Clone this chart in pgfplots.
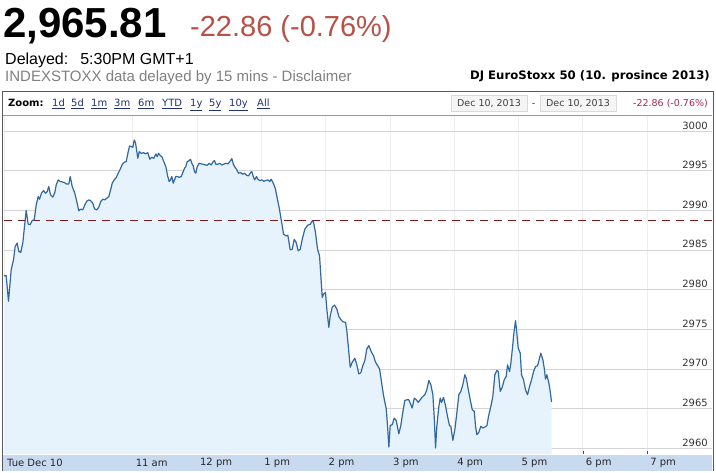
\documentclass[border=0pt]{standalone}
\usepackage{fontspec}
\usepackage{pgfplots}
\usepackage{pgfplotstable}
\pgfplotsset{compat=1.18}
\setmainfont{DejaVu Sans}
\newfontfamily\arial{Liberation Sans}
\newfontfamily\verd{DejaVu Sans}
\definecolor{linecol}{RGB}{50,104,158}
\definecolor{fillcol}{RGB}{230,243,252}
\definecolor{gridcol}{RGB}{212,212,212}
\definecolor{vgridcol}{RGB}{238,238,238}
\definecolor{prevcol}{RGB}{120,28,28}
\definecolor{bandcol}{RGB}{200,218,240}
\definecolor{redhead}{RGB}{182,82,72}
\definecolor{linkcol}{RGB}{30,50,120}
\definecolor{datered}{RGB}{160,40,80}
\newcommand{\tickfont}{\verd\fontsize{10}{12}\selectfont}

\pgfplotstableread{
h v
9.000 2981.76
9.034 2981.76
9.070 2978.53
9.112 2982.52
9.148 2983.77
9.174 2985.45
9.205 2985.87
9.230 2984.82
9.261 2984.70
9.292 2985.87
9.319 2987.97
9.345 2989.98
9.376 2988.26
9.407 2988.18
9.439 2988.72
9.470 2988.80
9.501 2990.69
9.532 2991.74
9.552 2991.40
9.583 2992.16
9.614 2992.49
9.645 2992.16
9.672 2992.37
9.697 2993.00
9.723 2991.95
9.759 2991.66
9.790 2992.24
9.812 2993.21
9.843 2993.84
9.874 2993.63
9.905 2993.58
9.941 2993.50
9.967 2993.33
10.008 2993.33
10.030 2994.26
10.061 2993.00
10.101 2992.16
10.132 2991.11
10.163 2989.94
10.194 2990.15
10.225 2990.06
10.257 2990.69
10.288 2991.15
10.319 2991.32
10.350 2991.19
10.381 2990.90
10.407 2990.19
10.443 2990.06
10.474 2990.40
10.505 2991.11
10.537 2991.40
10.568 2991.32
10.599 2991.53
10.630 2991.74
10.661 2992.66
10.683 2993.42
10.714 2993.84
10.745 2994.13
10.776 2994.68
10.807 2995.18
10.838 2995.77
10.869 2996.06
10.900 2996.14
10.932 2997.40
10.952 2998.11
10.983 2998.03
11.003 2997.95
11.025 2998.87
11.045 2998.53
11.081 2996.56
11.103 2997.40
11.134 2997.19
11.170 2997.27
11.201 2997.11
11.236 2997.27
11.267 2996.44
11.299 2996.69
11.330 2996.56
11.361 2997.11
11.383 2996.77
11.403 2997.19
11.434 2996.86
11.454 2996.77
11.485 2996.14
11.516 2995.51
11.547 2994.26
11.569 2993.63
11.589 2993.84
11.610 2994.26
11.631 2993.42
11.652 2993.84
11.672 2994.26
11.694 2994.26
11.725 2994.17
11.756 2994.26
11.787 2994.88
11.807 2995.30
11.827 2995.51
11.849 2996.14
11.880 2996.27
11.900 2996.44
11.921 2995.93
11.942 2995.60
11.963 2994.88
11.983 2994.68
12.005 2995.51
12.036 2995.93
12.067 2995.85
12.098 2995.81
12.129 2995.72
12.160 2995.68
12.191 2995.93
12.222 2995.72
12.253 2996.14
12.274 2996.27
12.294 2995.81
12.325 2995.81
12.356 2995.93
12.387 2995.72
12.418 2995.81
12.449 2995.93
12.481 2995.85
12.512 2996.14
12.543 2996.52
12.565 2995.85
12.585 2995.51
12.616 2995.18
12.647 2994.68
12.678 2994.76
12.709 2994.55
12.740 2994.68
12.771 2994.42
12.802 2994.34
12.834 2994.76
12.854 2994.88
12.876 2994.26
12.896 2993.84
12.927 2994.26
12.947 2993.92
12.978 2993.75
13.009 2993.84
13.040 2993.67
13.072 2993.75
13.103 2993.84
13.134 2993.63
13.155 2993.92
13.187 2993.42
13.218 2992.79
13.249 2991.53
13.280 2990.30
13.327 2988.03
13.347 2986.98
13.389 2986.77
13.414 2986.86
13.451 2985.01
13.482 2985.09
13.513 2986.35
13.544 2985.93
13.575 2984.88
13.607 2985.09
13.638 2986.35
13.678 2987.61
13.720 2988.11
13.762 2988.24
13.793 2988.66
13.813 2988.53
13.844 2987.19
13.876 2985.09
13.907 2984.26
13.927 2981.74
13.949 2979.01
13.969 2979.43
14.000 2979.64
14.020 2977.55
14.051 2975.24
14.073 2976.71
14.104 2977.76
14.140 2978.05
14.176 2977.55
14.207 2976.62
14.238 2976.21
14.269 2975.95
14.311 2975.87
14.331 2974.82
14.353 2972.94
14.384 2970.21
14.415 2970.84
14.456 2971.34
14.487 2970.50
14.518 2969.37
14.549 2969.50
14.580 2970.42
14.611 2971.05
14.642 2972.52
14.673 2972.94
14.715 2972.10
14.746 2971.68
14.778 2970.84
14.809 2970.42
14.840 2970.00
14.871 2968.32
14.902 2966.65
14.944 2964.97
14.964 2962.87
14.985 2960.15
15.006 2962.87
15.037 2962.96
15.068 2963.79
15.099 2963.50
15.140 2961.82
15.171 2962.87
15.202 2964.55
15.233 2966.02
15.264 2966.10
15.296 2966.10
15.327 2965.48
15.348 2965.06
15.380 2966.32
15.411 2966.11
15.442 2965.78
15.473 2966.11
15.504 2966.45
15.544 2966.74
15.575 2967.37
15.607 2968.54
15.638 2968.00
15.669 2966.74
15.690 2964.01
15.711 2960.03
15.731 2962.76
15.762 2965.27
15.784 2966.32
15.804 2965.78
15.835 2966.40
15.866 2965.36
15.897 2964.01
15.928 2962.84
15.949 2962.76
15.980 2961.00
16.011 2962.34
16.042 2964.43
16.073 2966.74
16.104 2967.16
16.135 2968.00
16.166 2969.26
16.188 2968.84
16.219 2967.45
16.250 2966.11
16.282 2964.85
16.313 2964.64
16.333 2962.76
16.353 2961.71
16.384 2962.00
16.415 2962.76
16.446 2962.55
16.477 2962.67
16.509 2962.84
16.540 2964.22
16.571 2965.27
16.602 2966.53
16.633 2969.26
16.664 2969.80
16.686 2969.67
16.717 2967.16
16.748 2967.70
16.779 2968.63
16.810 2969.05
16.830 2970.51
16.862 2969.67
16.882 2970.72
16.904 2972.40
16.929 2974.50
16.955 2976.09
16.975 2974.50
16.997 2972.61
17.028 2971.98
17.048 2969.26
17.079 2968.63
17.110 2967.37
17.141 2966.74
17.173 2967.79
17.204 2968.63
17.235 2969.67
17.266 2970.30
17.297 2970.39
17.328 2971.35
17.348 2971.98
17.380 2971.14
17.401 2970.09
17.421 2968.71
17.442 2969.26
17.473 2968.21
17.494 2967.16
17.515 2965.81
}\intraday

\begin{document}
\begin{tikzpicture}
\useasboundingbox (0pt,0pt) rectangle (716pt,-473pt);
\fill[white] (0pt,0pt) rectangle (716pt,-473pt);
% header
\node[anchor=base west, inner sep=0pt] at (3pt,-38pt) {\arial\bfseries\fontsize{42}{42}\selectfont 2,965.81};
\node[anchor=base west, inner sep=0pt, text=redhead] at (190pt,-37pt) {\arial\fontsize{29}{29}\selectfont -22.86 (-0.76\%)};
\node[anchor=base west, inner sep=0pt] at (5pt,-65pt) {\arial\fontsize{16}{16}\selectfont Delayed:\hspace{12pt}5:30PM GMT+1};
\node[anchor=base west, inner sep=0pt, text=black!50] at (5pt,-81.5pt) {\arial\fontsize{15}{15}\selectfont INDEXSTOXX data delayed by 15 mins - Disclaimer};
\node[anchor=base east, inner sep=0pt] at (710pt,-80pt) {\verd\bfseries\fontsize{11.7}{11.7}\selectfont DJ EuroStoxx 50 (10. prosince 2013)};
% zoom bar
\node[anchor=base west, inner sep=0pt] at (8pt,-107pt) {\verd\bfseries\fontsize{10}{10}\selectfont Zoom:};
\foreach \lab/\xx in {1d/52,5d/71,1m/91,3m/114,6m/138,YTD/162,1y/190,5y/209,10y/229,All/257}{
  \node[anchor=base west, inner sep=0pt, text=linkcol] at (\xx pt,-107pt) {\verd\fontsize{10}{10}\selectfont\underline{\lab}};
}
\draw[gray!30, fill=black!4] (451pt,-95pt) rectangle (527pt,-111pt);
\draw[gray!30, fill=black!4] (540pt,-95pt) rectangle (616pt,-111pt);
\node[anchor=base, inner sep=0pt, text=black!75] at (489pt,-106.5pt) {\verd\fontsize{9.5}{10}\selectfont Dec 10, 2013};
\node[anchor=base, inner sep=0pt, text=black!75] at (533.5pt,-106.5pt) {\verd\fontsize{9.5}{10}\selectfont -};
\node[anchor=base, inner sep=0pt, text=black!75] at (578pt,-106.5pt) {\verd\fontsize{9.5}{10}\selectfont Dec 10, 2013};
\node[anchor=base east, inner sep=0pt, text=datered] at (708pt,-106.5pt) {\verd\fontsize{9.5}{10}\selectfont -22.86 (-0.76\%)};
% x band
\fill[bandcol] (3pt,-455pt) rectangle (712pt,-471pt);
\begin{axis}[
  at={(4pt,-115pt)}, anchor=north west,
  scale only axis, width=708pt, height=339pt,
  xmin=9, xmax=20.01, ymin=2959.27, ymax=3002.02,
  axis line style={draw=none},
  xtick={9,11,12,13,14,15,16,17,18,19},
  xticklabels={Tue Dec 10,11 am,12 pm,1 pm,2 pm,3 pm,4 pm,5 pm,6 pm,7 pm},
  ytick={2960,2965,...,3000},
  yticklabel pos=right,
  xtick pos=bottom,
  tick align=inside,
  xtick style={draw=black!70, thin},
  ytick style={draw=none},
  major tick length=3pt,
  ymajorgrids, xmajorgrids,
  y grid style={gridcol, line width=0.8pt},
  x grid style={vgridcol, line width=0.6pt},
  /pgf/number format/assume math mode=true,
  /pgf/number format/1000 sep={},
  xticklabel style={anchor=west, font=\tickfont, text=black!85, inner sep=0pt, xshift=3pt, yshift=-9pt},
  yticklabel style={anchor=base east, font=\tickfont, text=black!80, inner sep=0pt, xshift=-4pt, yshift=2pt},
  clip=true,
]
\addplot[draw=none, fill=fillcol] table[x=h, y=v] {\intraday} |- (axis cs:9,2959.27) -- cycle;
\addplot[prevcol, line width=1.1pt, dash pattern=on 8pt off 6pt] coordinates {(9,2988.67) (20.01,2988.67)};
\addplot[linecol, line width=1.2pt, line join=round] table[x=h, y=v] {\intraday};
\end{axis}
% frame
\draw[black!40, line width=0.6pt] (3pt,-115pt) -- (712pt,-115pt);
\draw[black!65, line width=1pt] (2.5pt,-471pt) -- (2.5pt,-92pt) -- (713pt,-92pt) -- (713pt,-471pt);
\end{tikzpicture}
\end{document}
